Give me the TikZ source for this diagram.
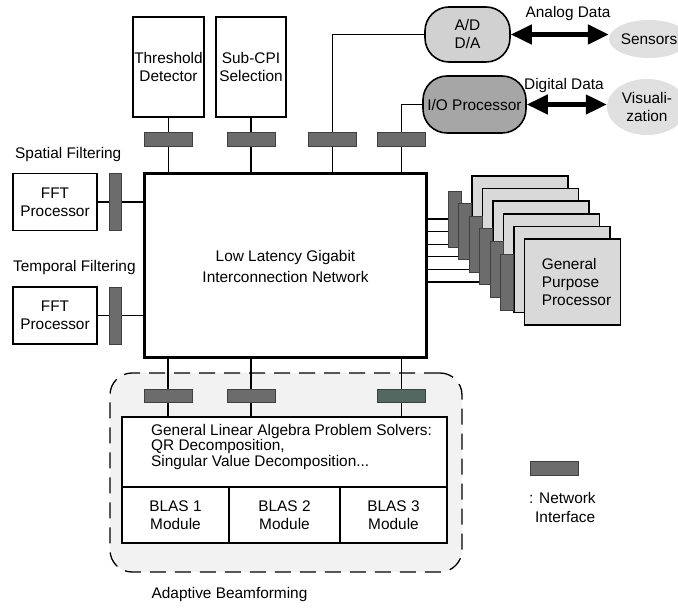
\documentclass[tikz,border=0pt]{standalone}
\usepackage{fontspec}
\setmainfont{Liberation Sans}
\usepackage{xcolor}
\usetikzlibrary{shapes,arrows,arrows.meta,positioning}
\pgfdeclarelayer{back}
\pgfdeclarelayer{background}
\pgfsetlayers{back,background,main}
\definecolor{nigray}{RGB}{108,108,108}
\definecolor{nigreen}{RGB}{84,104,98}
\tikzstyle{block} = [rectangle, draw, fill=white, line width=1.6pt,
    align=center, inner sep=1pt]
\tikzstyle{netif} = [rectangle, draw=black!75, fill=nigray, line width=0.6pt,
    minimum width=48pt, minimum height=14pt, inner sep=0pt]
\tikzstyle{vnetif} = [netif, minimum width=12pt, minimum height=57pt]
\tikzstyle{gpblock} = [rectangle, draw, fill=black!15, line width=1.6pt,
    minimum width=96pt, minimum height=86pt]
\tikzstyle{conv} = [rectangle, draw, rounded corners=24pt, line width=1.6pt,
    align=center, inner sep=1pt]
\tikzstyle{cloud} = [ellipse, fill=black!12, align=center, inner sep=0pt]
\tikzstyle{region} = [rectangle, draw, dashed, dash pattern=on 16pt off 9pt,
    rounded corners=22pt, fill=black!5, line width=1.3pt]
\tikzstyle{line} = [draw, line width=1.3pt]
\tikzstyle{dataarrow} = [draw, line width=4.5pt,
    {Triangle[length=21pt,width=19pt]}-{Triangle[length=21pt,width=19pt]}]
\tikzstyle{lbl} = [inner sep=1pt, align=left]

\begin{document}
\begin{tikzpicture}[x=1pt, y=-1pt, font=\fontsize{15.4}{18}\selectfont]
	\useasboundingbox (0,0) rectangle (678,609);
	% Place nodes
	\node [block, line width=3pt, minimum width=282pt, minimum height=184pt,
	    font=\fontsize{15.4}{21}\selectfont] (main) at (285.5,266) {Low Latency Gigabit\\Interconnection Network};

	\node [block, minimum width=71pt, minimum height=100pt] (thr) at (168.5,67) {Threshold\\Detector};
	\node [block, minimum width=70pt, minimum height=100pt] (cpi) at (251,67) {Sub-CPI\\Selection};
	\node [netif] (niA) at (168.5,139.5) {};
	\node [netif] (niB) at (251,139.5) {};
	\node [netif] (niC) at (332.5,139.5) {};
	\node [netif] (niD) at (401.5,139.5) {};

	\node [conv, fill=black!18, minimum width=85pt, minimum height=55pt] (adda) at (467.5,34.5) {A/D\\D/A};
	\node [conv, fill=black!35, minimum width=103pt, minimum height=57pt] (io) at (474.5,104.5) {I/O Processor};
	\node [cloud, minimum width=76pt, minimum height=38pt] (sensors) at (649,39) {Sensors};
	\node [cloud, minimum width=80pt, minimum height=56pt] (vis) at (647,107) {Visuali-\\zation};
	\node [lbl] (analog) at (568,14) {Analog Data};
	\node [lbl] (digital) at (564,86) {Digital Data};

	\node [lbl, anchor=west] (spatial) at (14,155) {Spatial Filtering};
	\node [block, minimum width=84pt, minimum height=57pt] (fftA) at (55,202) {FFT\\Processor};
	\node [vnetif] (niL) at (115,202) {};
	\node [lbl, anchor=west] (temporal) at (12,268) {Temporal Filtering};
	\node [block, minimum width=84pt, minimum height=57pt] (fftB) at (55,315.5) {FFT\\Processor};
	\node [vnetif] (niM) at (115,315.5) {};

	% general purpose processors, back to front
	\foreach \i in {0,...,5} {
		\node [gpblock] (gp\i) at (520+10.5*\i,219+12.6*\i) {};
		\node [vnetif, minimum width=13pt, minimum height=56pt] (gpni\i) at (454.5+10.5*\i,219+12.6*\i) {};
	}
	\node [lbl] (gptext) at ([xshift=4pt]gp5.center) {General\\Purpose\\Processor};

	\begin{pgfonlayer}{back}
		\node [region, minimum width=352pt, minimum height=199pt] (beam) at (286,472.5) {};
	\end{pgfonlayer}
	\node [netif, minimum height=13pt] (niE) at (168,395.5) {};
	\node [netif, minimum height=13pt] (niF) at (251,395.5) {};
	\node [netif, minimum height=13pt, fill=nigreen] (niG) at (401.5,395.5) {};
	\node [block, line width=1.3pt, minimum width=325pt, minimum height=70pt] (solver) at (284.5,452) {};
	\node [lbl, anchor=west, font=\fontsize{15.4}{15.5}\selectfont] (solvertext) at (150,447)
	    {General Linear Algebra Problem Solvers:\\QR Decomposition,\\Singular Value Decomposition...};
	\node [block, line width=1.3pt, minimum width=107pt, minimum height=56pt] (blasA) at (175.5,515) {BLAS 1\\Module};
	\node [block, line width=1.3pt, minimum width=111pt, minimum height=56pt] (blasB) at (284.5,515) {BLAS 2\\Module};
	\node [block, line width=1.3pt, minimum width=107pt, minimum height=56pt] (blasC) at (393.5,515) {BLAS 3\\Module};
	\node [lbl] (beamtext) at (229.5,595) {Adaptive Beamforming};

	\node [netif] (legni) at (554,468) {};
	\node [lbl, anchor=west, font=\fontsize{15.4}{19}\selectfont] (legtext) at (528,507.5) {: Network\\\hspace{6pt}Interface};

	% Draw edges
	\begin{pgfonlayer}{background}
		\path [line] (thr) -- (niA);
		\path [line] (cpi) -- (niB);
		\path [line] (niA) -- (niA |- main.north);
		\path [line] (niB) -- (niB |- main.north);
		\path [line] (niC) -- (niC |- main.north);
		\path [line] (niD) -- (niD |- main.north);
		\path [line] (niC) |- (adda.west);
		\path [line] (niD) |- (io.west);

		\path [line] (fftA) -- (niL);
		\path [line] (niL) -- (niL -| main.west);
		\path [line] (fftB) -- (niM);
		\path [line] (niM) -- (niM -| main.west);

		\foreach \i in {0,...,5}
			\path [line] (gpni\i.west -| main.east) -- (gpni\i.west);

		\path [line] (niE) -- (niE |- main.south);
		\path [line] (niF) -- (niF |- main.south);
		\path [line] (niG) -- (niG |- main.south);
		\path [line] (niE) -- (niE |- solver.north);
		\path [line] (niF) -- (niF |- solver.north);
		\path [line] (niG) -- (niG |- solver.north);
	\end{pgfonlayer}

	\path [dataarrow] (adda.east) -- (adda.east -| sensors.west);
	\path [dataarrow] (io.east) -- (io.east -| vis.west);
\end{tikzpicture}
\end{document}
